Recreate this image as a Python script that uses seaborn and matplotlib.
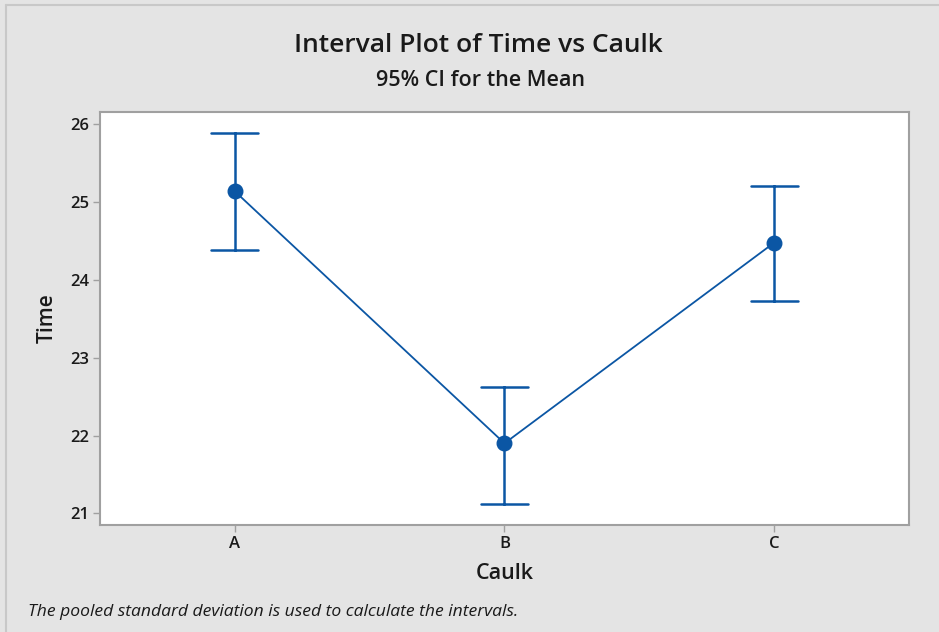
import matplotlib
matplotlib.use("Agg")
import matplotlib.pyplot as plt
from matplotlib.lines import Line2D
import seaborn as sns
import pandas as pd

# Data
categories = ["A", "B", "C"]
means = [25.14, 21.90, 24.48]
lower = [24.39, 21.12, 23.73]
upper = [25.89, 22.63, 25.21]
yticks = [21, 22, 23, 24, 25, 26]

rows = []
for c, lo, m, hi in zip(categories, lower, means, upper):
    for v in (lo, m, hi):
        rows.append({"Caulk": c, "Time": v})
df = pd.DataFrame(rows)

sns.set_theme(style="white")
plt.rcParams["font.family"] = ["Open Sans", "DejaVu Sans"]

bg = "#e4e4e4"
blue = "#0b56a4"
fig = plt.figure(figsize=(9.39, 6.32), dpi=100, facecolor=bg)
ax = fig.add_axes([100/939, 1 - 525/632, 809/939, 413/632])
ax.set_facecolor("white")

sns.pointplot(data=df, x="Caulk", y="Time", order=categories,
              estimator="median", errorbar=("pi", 100),
              color=blue, capsize=0.175, markersize=10.5,
              linewidth=1.3, err_kws={"linewidth": 1.8}, ax=ax)

ax.set_xlim(-0.5, 2.5)
ax.set_ylim(20.85, 26.16)
ax.set_yticks(yticks)
ax.set_yticklabels([str(t) for t in yticks])

for s in ax.spines.values():
    s.set_color("#a0a0a0")
    s.set_linewidth(1.5)
ax.tick_params(axis="both", which="both", direction="out", length=5,
               width=1, color="#a0a0a0", labelsize=12, labelcolor="#1a1a1a",
               left=True, bottom=True, pad=3)
for lbl in ax.get_xticklabels() + ax.get_yticklabels():
    lbl.set_fontweight("semibold")

ax.set_xlabel("Caulk", fontsize=15.5, fontweight="semibold", color="#1a1a1a", labelpad=8)
ax.set_ylabel("Time", fontsize=15, fontweight="semibold", color="#1a1a1a", labelpad=9)

fig.text(478/939, 1 - 46/632, "Interval Plot of Time vs Caulk", ha="center", va="center",
         fontsize=19, fontweight="semibold", color="#1a1a1a")
fig.text(480/939, 1 - 80/632, "95% CI for the Mean", ha="center", va="center",
         fontsize=15.5, fontweight="semibold", color="#1a1a1a")
fig.text(28/939, 1 - 612/632, "The pooled standard deviation is used to calculate the intervals.",
         ha="left", va="center", fontsize=12.6, style="italic", color="#1a1a1a")

# outer frame lines
fig.add_artist(Line2D([6/939, 1], [1 - 5/632, 1 - 5/632], transform=fig.transFigure,
                      color="#c8c8c8", linewidth=1.5))
fig.add_artist(Line2D([6/939, 6/939], [0, 1 - 5/632], transform=fig.transFigure,
                      color="#c8c8c8", linewidth=1.5))

fig.savefig("out.png", dpi=100, facecolor=bg)
